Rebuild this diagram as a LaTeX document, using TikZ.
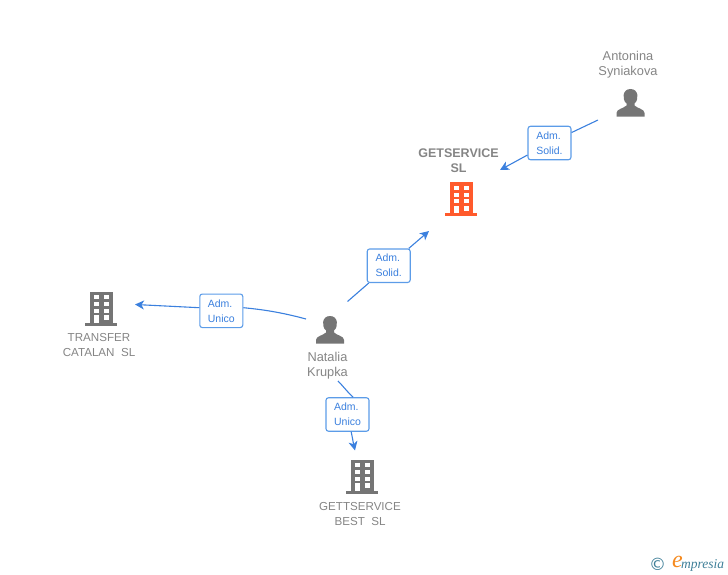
\documentclass[tikz,border=0pt]{standalone}
\usepackage{fontspec}
\setmainfont{Liberation Sans}
\newfontfamily\serifit{Liberation Serif}
\newfontfamily\symbolfont{DejaVu Sans}
\usetikzlibrary{arrows.meta}
\definecolor{grey5}{HTML}{757575}
\definecolor{grey7}{HTML}{858585}
\definecolor{orange5}{HTML}{FF5A2C}
\definecolor{blue5}{HTML}{3B80DE}
\definecolor{blue7}{HTML}{5C9CE8}
\definecolor{teal5}{HTML}{3F7F98}
\definecolor{orange7}{HTML}{F58A1F}
\tikzset{
  nametext/.style={text=grey7, align=center, inner sep=0, font=\fontsize{11.6}{15}\selectfont},
  persontext/.style={nametext, font=\fontsize{12.8}{15}\selectfont},
  roletext/.style={draw=blue7, line width=1.1pt, fill=white, rounded corners=2.5pt, text=blue5, align=left,
    minimum width=43pt, minimum height=33.5pt, inner sep=0, font=\fontsize{10.5}{15}\selectfont,
    execute at begin node=\rule{0pt}{9.5pt}},
  linkline/.style={draw=blue5, line width=1.1pt},
  linkarrow/.style={linkline, -{Stealth[length=9pt, width=9pt, inset=2.5pt]}},
  pics/person/.style={code={
    \fill[grey5] (-14,13.7) -- (-14,10) .. controls (-14,6) and (-7,5.5) .. (-4,2.5)
      -- (-4,0.5) .. controls (-8.5,-3) and (-8.5,-14) .. (0,-14) .. controls (8.5,-14) and (8.5,-3) .. (4,0.5)
      -- (4,2.5) .. controls (7,5.5) and (14,6) .. (14,10) -- (14,13.7) -- cycle;
  }},
  pics/tower/.style={code={
    \fill[#1] (-11.2,-16.8) rectangle (11.5,14);
    \fill[#1] (-16,14) rectangle (16,17.2);
    \foreach \wy/\wh in {-13.2/-9.2, -6.5/-2.5, 0.2/4.2, 6.8/11.5} {
      \fill[white] (-7.5,\wy) rectangle (-2.5,\wh);
      \fill[white] (2.5,\wy) rectangle (7.5,\wh);
    }
    \fill[white] (-7.5,11.5) rectangle (-2.5,14);
  }},
}
\begin{document}
\begin{tikzpicture}[x=1pt, y=-1pt]
\useasboundingbox (0,0) rectangle (728,575);

\pic at (461,199) {tower=orange5};
\pic at (101,308.5) {tower=grey5};
\pic at (362,476.5) {tower=grey5};
\pic at (630.5,103) {person};
\pic at (330,330) {person};

\node[persontext] (antonina) at (628,64.5) {Antonina\\Syniakova};
\node[nametext, font=\fontsize{12.5}{15}\selectfont\bfseries] (getservice) at (458.5,160.5) {GETSERVICE\\SL};
\node[persontext] (natalia) at (327.5,365.5) {Natalia\\Krupka};
\node[nametext] (transfer) at (99,345.5) {TRANSFER\\CATALAN\ \ SL};
\node[nametext] (gettservice) at (360,514.5) {GETTSERVICE\\BEST\ \ SL};

\coordinate (antoninaout) at (598,120);
\coordinate (getservicein) at (500,170);
\coordinate (nataliaup) at (347.5,301.5);
\coordinate (getservicelow) at (429,231);
\coordinate (natalialeft) at (306,319);
\coordinate (transferin) at (135,304.5);
\coordinate (nataliadown) at (338,381);
\coordinate (gettservicein) at (355,450.5);

\node[roletext] (adm1) at (549.5,143) {Adm.\\Solid.};
\node[roletext] (adm2) at (388.7,265.7) {Adm.\\Solid.};
\node[roletext] (adm3) at (221.3,310.8) {Adm.\\Unico};
\node[roletext] (adm4) at (347.5,414.5) {Adm.\\Unico};

\draw[linkline] (antoninaout) -- (adm1);
\draw[linkarrow] (adm1) -- (getservicein);
\draw[linkline] (nataliaup) -- (adm2);
\draw[linkarrow] (adm2) -- (getservicelow);
\draw[linkline] (natalialeft) .. controls (280,312) and (262,309.5) .. (adm3.8);
\draw[linkarrow] (adm3.172) -- (transferin);
\draw[linkline] (nataliadown) .. controls (343,386) and (346.5,391) .. (adm4.72);
\draw[linkarrow] (adm4.-78) .. controls (352.5,438) and (353.5,444) .. (gettservicein);

\node[text=teal5, inner sep=0, font=\symbolfont\fontsize{17}{17}\selectfont] (copyright) at (657.5,564) {©};
\node[text=orange7, inner sep=0, font=\serifit\itshape\fontsize{24}{24}\selectfont] (logoe) at (677.5,562) {e};
\node[text=teal5, inner sep=0, anchor=west, font=\serifit\itshape\fontsize{13.5}{13.5}\selectfont] (logotext) at (681,565) {mpresia};
\end{tikzpicture}
\end{document}
